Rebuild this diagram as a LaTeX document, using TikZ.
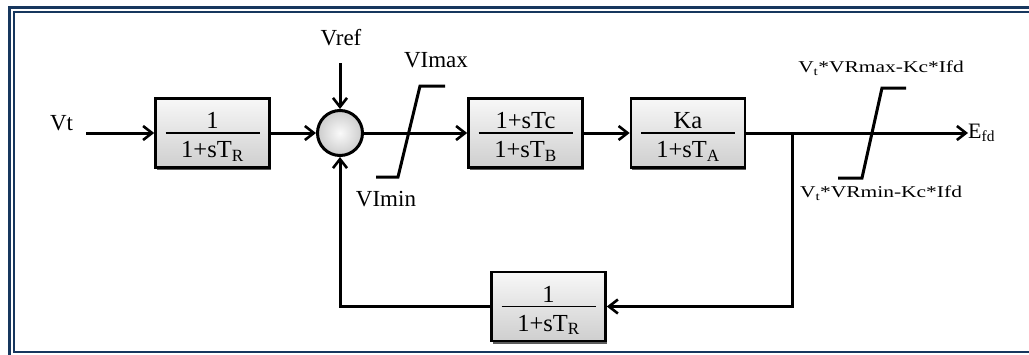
\documentclass[tikz,border=0pt]{standalone}
\usepackage{fontspec}
\setmainfont{Liberation Serif}
\newfontfamily\widefont[FakeStretch=1.3]{Liberation Serif}
\usetikzlibrary{arrows.meta,shadows,calc}
\definecolor{framecol}{RGB}{23,55,94}
\tikzset{
  wire/.style={line width=3pt, draw=black},
  arr/.style={wire, -{Straight Barb[length=9pt,width=14pt,line width=2.6pt]}},
  blk/.style={draw, line width=2.6pt, minimum width=114pt, minimum height=69pt,
    inner sep=0pt, top color=gray!6, bottom color=gray!38,
    drop shadow={shadow xshift=1pt, shadow yshift=-2.5pt, fill=black!75, opacity=0.85}},
  sumc/.style={circle, draw, line width=3pt, minimum size=45pt, inner sep=0pt,
    inner color=gray!4, outer color=gray!40},
  lbl/.style={font=\fontsize{23}{25}\selectfont, inner sep=0pt},
  fr/.style={font=\fontsize{24.5}{26}\selectfont, inner sep=0pt, anchor=base},
  wlbl/.style={font=\widefont\fontsize{16.5}{18}\selectfont, inner sep=0pt},
  efdl/.style={font=\fontsize{22}{24}\selectfont, inner sep=0pt, anchor=west},
  fline/.style={line width=1.6pt},
  framel/.style={draw=framecol}
}
\begin{document}
\begin{tikzpicture}[x=1pt,y=-1pt]
\useasboundingbox (0,0) rectangle (1029,354);
\fill[white] (0,0) rectangle (1029,354);
\begin{scope}
  \clip (0,0) rectangle (1029,354);
  \draw[framel, line width=2.7pt] (9.3,7.8) rectangle (1045,366);
  \draw[framel, line width=2.3pt] (14,12.3) rectangle (1040,352.2);
\end{scope}

% nodes
\node[lbl] (vt) at (61.5,123) {Vt};
\coordinate (vts) at (86,133);
\node[blk] (b1) at (212.5,133) {};
\node[sumc] (sum) at (340,133) {};
\node[lbl] (vref) at (341,38) {Vref};
\coordinate (vrefs) at (340,63);
\node[blk] (b2) at (525.5,133) {};
\node[blk] (b3) at (688,133) {};
\node[blk] (bf) at (548.5,306.5) {};
\coordinate (tap) at (792,133);
\coordinate (tapb) at (792,306.5);
\coordinate (fbc) at (340,306.5);
\node[efdl] (efd) at (968,133) {E\textsubscript{fd}};

% fractions
\foreach \b/\n/\d in {b1/1/1+sT\textsubscript{R}, b2/1+sTc/1+sT\textsubscript{B}, b3/Ka/1+sT\textsubscript{A}, bf/1/1+sT\textsubscript{R}}{
  \node[fr] (\b n) at ([yshift=4.5pt]\b.center) {\n};
  \node[fr] (\b d) at ([yshift=-24.5pt]\b.center) {\d};
  \draw[fline] ([xshift=-47pt]\b.center) -- ([xshift=47pt]\b.center);
}

% connectors
\draw[arr] (vts) -- (b1.west);
\draw[arr] (b1.east) -- (sum.west);
\draw[arr] (vrefs) -- (sum.north);
\draw[arr] (sum.east) -- (b2.west);
\draw[arr] (b2.east) -- (b3.west);
\draw[arr] (b3.east) -- (b3.east -| efd.west);
\draw[arr] (tap) -- (tapb) -- (bf.east);
\draw[arr] (bf.west) -- (fbc) -- (sum.south);

% limiters
\draw[wire] (376,177) -- (398,177) -- (420,86) -- (445,86);
\draw[wire] (838,178) -- (862,178) -- (882,88) -- (906,88);

% labels
\node[lbl] (vimax) at (436,60.5) {VImax};
\node[lbl] (vimin) at (386,199) {VImin};
\node[wlbl] (rmax) at (881,68) {V\textsubscript{t}*VRmax-Kc*Ifd};
\node[wlbl] (rmin) at (881,193) {V\textsubscript{t}*VRmin-Kc*Ifd};
\end{tikzpicture}
\end{document}
